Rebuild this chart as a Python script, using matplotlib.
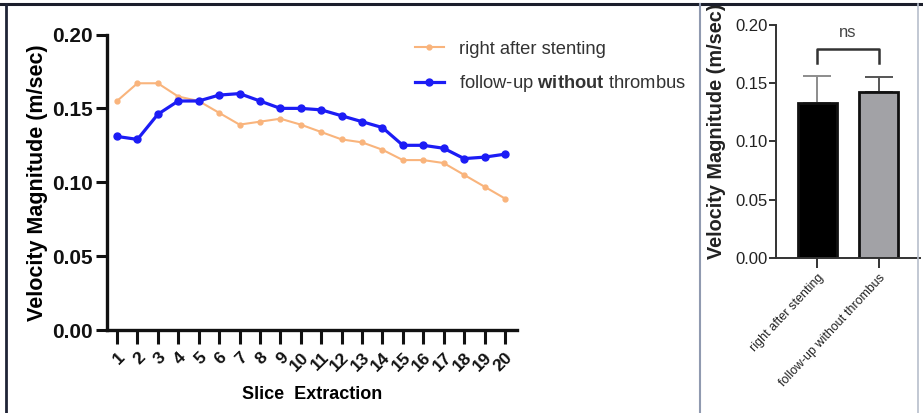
import numpy as np
import matplotlib
matplotlib.use("Agg")
import matplotlib.pyplot as plt
from matplotlib.lines import Line2D

plt.rcParams['font.family'] = ['Liberation Sans', 'DejaVu Sans']
plt.rcParams['mathtext.fontset'] = 'custom'
plt.rcParams['mathtext.rm'] = 'Liberation Sans'
plt.rcParams['mathtext.bf'] = 'Liberation Sans:bold'

# ---- data ----
slices = list(range(1, 21))
right_after = [0.155, 0.167, 0.167, 0.158, 0.155, 0.147, 0.139, 0.141, 0.143, 0.139,
               0.134, 0.129, 0.127, 0.122, 0.115, 0.115, 0.113, 0.105, 0.097, 0.089]
follow_up = [0.131, 0.129, 0.146, 0.155, 0.155, 0.159, 0.160, 0.155, 0.150, 0.150,
             0.149, 0.145, 0.141, 0.137, 0.125, 0.125, 0.123, 0.116, 0.117, 0.119]

groups = ['right after stenting', 'follow-up without thrombus']
bar_means = [0.133, 0.142]
bar_sd = [0.023, 0.013]

ORANGE = '#f9b47c'
BLUE = '#1c1cf5'

W, H = 923, 413
fig = plt.figure(figsize=(W / 100, H / 100), dpi=100)

def fx(px):
    return px / W

def fy(py):
    return 1 - py / H

# ---- left panel: velocity along slices ----
ax = fig.add_axes([fx(107), fy(330), fx(517) - fx(107), fy(34.5) - fy(330)])
ax.plot(slices, right_after, '-o', color=ORANGE, lw=1.5, ms=3.5,
        label='right after stenting')
ax.plot(slices, follow_up, '-o', color=BLUE, lw=2.3, ms=5,
        label='follow-up $\\bf{without}$ thrombus')
ax.set_xlim(0.51, 20.59)
ax.set_ylim(0, 0.20)
ax.set_yticks([0, 0.05, 0.10, 0.15, 0.20])
ax.set_yticklabels(['0.00', '0.05', '0.10', '0.15', '0.20'], fontweight='bold', fontsize=15)
ax.set_xticks(slices)
ax.set_xticklabels([str(s) for s in slices], rotation=45, ha='right', va='top',
                   rotation_mode='anchor', fontweight='bold', fontsize=12.5)
for s in ['top', 'right']:
    ax.spines[s].set_visible(False)
for s in ['left', 'bottom']:
    ax.spines[s].set_linewidth(2.4)
    ax.spines[s].set_color('#111111')
ax.tick_params(axis='y', length=8, width=2.2, pad=2, colors='#111111')
ax.tick_params(axis='x', length=10, width=2.2, pad=4, colors='#111111')
ax.set_ylabel('Velocity Magnitude (m/sec)', fontweight='bold', fontsize=15.5, labelpad=3)
ax.set_xlabel('Slice  Extraction', fontweight='bold', fontsize=13, labelpad=9)
ax.legend(loc='upper left', bbox_to_anchor=(fx(398), fy(24)), bbox_transform=fig.transFigure,
          frameon=False, fontsize=13.2, handlelength=1.6, handletextpad=0.85,
          labelspacing=0.85, labelcolor='#333333')

# ---- right panel: mean velocity per group ----
bx = fig.add_axes([fx(776), fy(257.7), fx(920) - fx(776), fy(25) - fy(257.7)])
xpos = np.arange(len(groups))
bx.bar(xpos, bar_means, width=0.65, color=['#000000', '#a2a2a6'],
       edgecolor='#111111', linewidth=2.0, zorder=2)
err_colors = ['#8c8c8c', '#555555']
for i in range(len(groups)):
    bx.errorbar(xpos[i], bar_means[i], yerr=[[0], [bar_sd[i]]], fmt='none',
                ecolor=err_colors[i], elinewidth=1.4, capsize=10, capthick=1.4, zorder=1)
bx.set_xlim(-0.68, 1.68)
bx.set_ylim(0, 0.20)
bx.set_yticks([0, 0.05, 0.10, 0.15, 0.20])
bx.set_yticklabels(['0.00', '0.05', '0.10', '0.15', '0.20'], fontsize=12, color='#222222')
bx.set_xticks(xpos)
bx.set_xticklabels(groups, rotation=47, ha='right', va='top', rotation_mode='anchor',
                   fontsize=9, color='#222222')
for s in ['top', 'right']:
    bx.spines[s].set_visible(False)
for s in ['left', 'bottom']:
    bx.spines[s].set_linewidth(1.4)
    bx.spines[s].set_color('#333333')
bx.tick_params(axis='y', length=5, width=1.4, pad=1, colors='#333333', labelcolor='#222222')
bx.tick_params(axis='x', length=7, width=1.4, pad=3, colors='#333333', labelcolor='#222222')
bx.set_ylabel('Velocity Magnitude (m/sec)', fontweight='bold', fontsize=14.3, color='#222222')
bx.yaxis.set_label_coords(-0.35, 0.545)

# significance bracket
bx.plot([0, 0, 1, 1], [0.167, 0.179, 0.179, 0.167], color='#333333', lw=1.8, clip_on=False)
bx.text(0.5, 0.187, 'ns', ha='center', va='bottom', fontsize=12, color='#444444')

# ---- panel frame ----
fig.add_artist(Line2D([fx(0), fx(W)], [fy(3.5), fy(3.5)], color='#1b1e2b', lw=2.2))
fig.add_artist(Line2D([fx(5.5), fx(5.5)], [fy(3.5), fy(H)], color='#1f2436', lw=2.0))
fig.add_artist(Line2D([fx(700), fx(700)], [fy(3.5), fy(H)], color='#909ab0', lw=1.5))
fig.add_artist(Line2D([fx(918), fx(918)], [fy(3.5), fy(H)], color='#b8bfcc', lw=1.2))

fig.savefig('out.png', dpi=100)
